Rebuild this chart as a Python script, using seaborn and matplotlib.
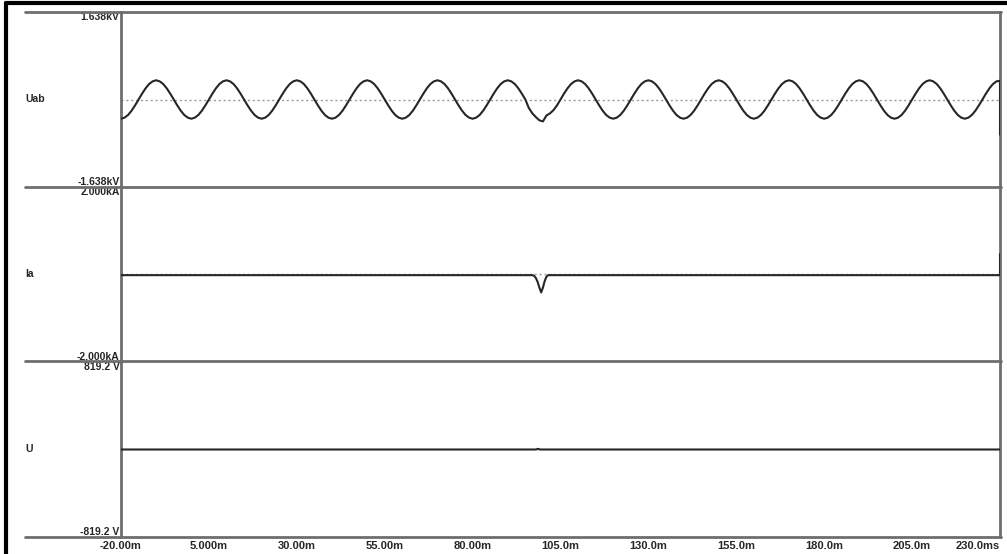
import numpy as np
import pandas as pd
import matplotlib
matplotlib.use("Agg")
import matplotlib.pyplot as plt
from matplotlib.lines import Line2D
import seaborn as sns

# ---------------- data ----------------
# Uab in kV, sampled every 1 ms from -20 ms to 230 ms, plus the final drop sample
uab_time_ms = list(range(-20, 231)) + [230]
uab_kv = (
    [-0.36, -0.34, -0.29, -0.21, -0.11, 0.00, 0.11, 0.21, 0.29, 0.34, 0.36, 0.34, 0.29, 0.21, 0.11, 0.00, -0.11, -0.21, -0.29, -0.34]  # -20..-1
    + [-0.36, -0.34, -0.29, -0.21, -0.11, 0.00, 0.11, 0.21, 0.29, 0.34, 0.36, 0.34, 0.29, 0.21, 0.11, 0.00, -0.11, -0.21, -0.29, -0.34]  # 0..19
    + [-0.36, -0.34, -0.29, -0.21, -0.11, 0.00, 0.11, 0.21, 0.29, 0.34, 0.36, 0.34, 0.29, 0.21, 0.11, 0.00, -0.11, -0.21, -0.29, -0.34]  # 20..39
    + [-0.36, -0.34, -0.29, -0.21, -0.11, 0.00, 0.11, 0.21, 0.29, 0.34, 0.36, 0.34, 0.29, 0.21, 0.11, 0.00, -0.11, -0.21, -0.29, -0.34]  # 40..59
    + [-0.36, -0.34, -0.29, -0.21, -0.11, 0.00, 0.11, 0.21, 0.29, 0.34, 0.36, 0.34, 0.29, 0.21, 0.11, 0.00, -0.11, -0.21, -0.29, -0.34]  # 60..79
    + [-0.36, -0.34, -0.29, -0.21, -0.11, 0.00, 0.11, 0.21, 0.29, 0.34, 0.36, 0.34, 0.29, 0.21, 0.11, 0.00, -0.16, -0.26, -0.33, -0.39]  # 80..99
    + [-0.41, -0.30, -0.26, -0.20, -0.11, 0.00, 0.11, 0.21, 0.29, 0.34, 0.36, 0.34, 0.29, 0.21, 0.11, 0.00, -0.11, -0.21, -0.29, -0.34]  # 100..119
    + [-0.36, -0.34, -0.29, -0.21, -0.11, 0.00, 0.11, 0.21, 0.29, 0.34, 0.36, 0.34, 0.29, 0.21, 0.11, 0.00, -0.11, -0.21, -0.29, -0.34]  # 120..139
    + [-0.36, -0.34, -0.29, -0.21, -0.11, 0.00, 0.11, 0.21, 0.29, 0.34, 0.36, 0.34, 0.29, 0.21, 0.11, 0.00, -0.11, -0.21, -0.29, -0.34]  # 140..159
    + [-0.36, -0.34, -0.29, -0.21, -0.11, 0.00, 0.11, 0.21, 0.29, 0.34, 0.36, 0.34, 0.29, 0.21, 0.11, 0.00, -0.11, -0.21, -0.29, -0.34]  # 160..179
    + [-0.36, -0.34, -0.29, -0.21, -0.11, 0.00, 0.11, 0.21, 0.29, 0.34, 0.36, 0.34, 0.29, 0.21, 0.11, 0.00, -0.11, -0.21, -0.29, -0.34]  # 180..199
    + [-0.36, -0.34, -0.29, -0.21, -0.11, 0.00, 0.11, 0.21, 0.29, 0.34, 0.36, 0.34, 0.29, 0.21, 0.11, 0.00, -0.11, -0.21, -0.29, -0.34]  # 200..219
    + [-0.36, -0.34, -0.29, -0.21, -0.11, 0.00, 0.11, 0.21, 0.29, 0.34]  # 220..229
    + [0.35, -0.66]  # 230 and final drop
)

# Ia in kA
ia_time_ms = [-20, 97, 97.5, 98, 98.5, 99, 99.5, 100, 100.5, 101, 101.5, 230, 230]
ia_ka = [-0.015, -0.015, -0.03, -0.08, -0.17, -0.30, -0.41, -0.30, -0.15, -0.05, -0.015, -0.015, 0.47]

# U in V
u_time_ms = [-20, 98.0, 98.6, 99.2, 230]
u_v = [0.0, 0.0, 6.0, 0.0, 0.0]

panel_names = ["Uab", "Ia", "U"]
panel_limits = [1.638, 2.0, 819.2]
panel_ticklabels = [("-1.638kV", "1.638kV"), ("-2.000kA", "2.000kA"), ("-819.2 V", "819.2 V")]

x_ticks = [-20, 5, 30, 55, 80, 105, 130, 155, 180, 205, 230]
x_ticklabels = ["-20.00m", "5.000m", "30.00m", "55.00m", "80.00m", "105.0m",
                "130.0m", "155.0m", "180.0m", "205.0m", "230.0ms"]

# ---------------- styling ----------------
sns.set_style("white")
plt.rcParams["font.family"] = ["Liberation Sans", "DejaVu Sans"]
plt.rcParams["font.weight"] = "bold"

W, H = 1007, 554
fig = plt.figure(figsize=(W / 100, H / 100), dpi=100)
left, right = 121 / W, 1000 / W
top, bottom = 1 - 12 / H, 1 - 537 / H
axes = fig.subplots(3, 1, sharex=True,
                    gridspec_kw=dict(left=left, right=right, top=top, bottom=bottom, hspace=0))

frames = [
    pd.DataFrame({"t": uab_time_ms, "v": uab_kv}),
    pd.DataFrame({"t": ia_time_ms, "v": ia_ka}),
    pd.DataFrame({"t": u_time_ms, "v": u_v}),
]

axis_gray = "#6e6e6e"
fs = 7.5

for i, (ax, df) in enumerate(zip(axes, frames)):
    lim = panel_limits[i]
    if i < 2:
        ax.axhline(0, color="#9a9a9a", lw=1.0, ls=(0, (1.5, 2)), zorder=1)
    sns.lineplot(data=df, x="t", y="v", ax=ax, estimator=None, sort=False,
                 color="#262626", lw=1.5, zorder=3)
    ax.set_ylim(-lim, lim)
    ax.set_xlim(-20, 230)
    ax.set_yticks([-lim, lim])
    ax.set_yticklabels(panel_ticklabels[i], fontsize=fs, fontweight="bold")
    labs = ax.get_yticklabels()
    labs[0].set_va("bottom")
    labs[1].set_va("top")
    ax.tick_params(axis="y", length=0, pad=1)
    ax.set_xlabel("")
    ax.set_ylabel(panel_names[i], rotation=0, ha="left", va="center",
                  fontsize=fs, fontweight="bold")
    ax.yaxis.set_label_coords((25 - 121) / 879, 0.5)
    for s in ["top", "bottom"]:
        ax.spines[s].set_visible(False)
    ax.spines["left"].set_color(axis_gray)
    ax.spines["left"].set_linewidth(2)
    ax.spines["right"].set_color(axis_gray)
    ax.spines["right"].set_linewidth(2)
    if i < 2:
        ax.tick_params(axis="x", length=0)

axes[-1].set_xticks(x_ticks)
axes[-1].set_xticklabels(x_ticklabels, fontsize=fs + 0.5, fontweight="bold")
axes[-1].get_xticklabels()[-1].set_ha("right")
axes[-1].tick_params(axis="x", direction="in", length=3, width=1.2, color="#333333", pad=3)

# horizontal separators extending into the left label margin
for ypix in [12, 187, 361, 537]:
    yf = 1 - ypix / H
    fig.add_artist(Line2D([25 / W, 1001 / W], [yf, yf], transform=fig.transFigure,
                          color=axis_gray, lw=2))

# outer black frame (top and left)
fig.add_artist(Line2D([6 / W, 1.0], [1 - 3 / H, 1 - 3 / H], transform=fig.transFigure,
                      color="black", lw=3))
fig.add_artist(Line2D([6 / W, 6 / W], [0, 1 - 3 / H], transform=fig.transFigure,
                      color="black", lw=3))

fig.savefig("out.png", dpi=100, facecolor="white")
